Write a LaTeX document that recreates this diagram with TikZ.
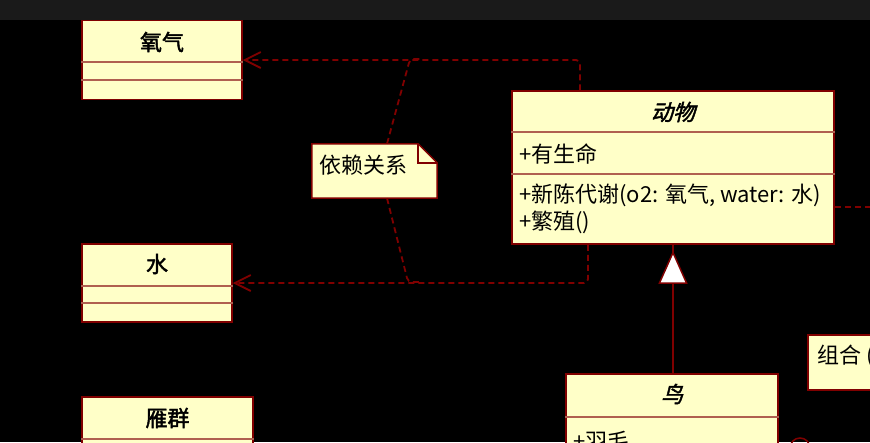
\documentclass[tikz,border=0pt]{standalone}
\usepackage{fontspec}
\usetikzlibrary{arrows.meta,calc}
\newfontfamily\cjk{Noto Sans CJK SC}
\newfontfamily\cjkbf[FakeBold=2]{Noto Sans CJK SC}
\newfontfamily\cjkbi[FakeBold=2,FakeSlant=0.25]{Noto Sans CJK SC}
\definecolor{umlfill}{RGB}{255,255,200}
\definecolor{umlline}{RGB}{128,0,0}
\definecolor{divline}{RGB}{176,96,80}
\definecolor{topbar}{RGB}{26,26,26}
\begin{document}
\begin{tikzpicture}[x=1pt,y=-1pt,
  classbox/.style={draw=umlline, fill=umlfill, line width=1.5pt, inner sep=0pt},
  title/.style={font=\cjkbf\fontsize{22}{26}\selectfont, inner sep=0pt},
  ititle/.style={font=\cjkbi\fontsize{22}{26}\selectfont, inner sep=0pt},
  member/.style={font=\cjk\fontsize{22}{26}\selectfont, inner sep=0pt, anchor=west},
  divider/.style={draw=divline, line width=1.5pt},
  depend/.style={draw=umlline, line width=1.8pt, dash pattern=on 6pt off 4pt, rounded corners=4pt},
  notebox/.style={draw=umlline, fill=umlfill, line width=1.5pt, line join=miter},
  solidline/.style={draw=umlline, line width=1.5pt}
]
% canvas
\fill[black] (0,0) rectangle (870,442);
\fill[topbar] (0,0) rectangle (870,20);
\useasboundingbox (0,0) rectangle (870,442);
\clip (0,0) rectangle (870,442);

% class: 氧气
\node[classbox, minimum width=160pt, minimum height=79pt] (oxygen) at (162,60) {};
\draw[divider] (oxygen.west |- 0,62) -- (oxygen.east |- 0,62);
\draw[divider] (oxygen.west |- 0,80) -- (oxygen.east |- 0,80);
\node[title] (oxygenname) at (162,42) {氧气};

% class: 水
\node[classbox, minimum width=150pt, minimum height=78pt] (water) at (157,283) {};
\draw[divider] (water.west |- 0,286) -- (water.east |- 0,286);
\draw[divider] (water.west |- 0,303) -- (water.east |- 0,303);
\node[title] (watername) at (157,264) {水};

% class: 雁群
\node[classbox, minimum width=171pt, minimum height=90pt] (flock) at (167.5,442) {};
\draw[divider] (flock.west |- 0,439) -- (flock.east |- 0,439);
\node[title] (flockname) at (167.5,418) {雁群};

% class: 动物
\node[classbox, minimum width=322pt, minimum height=153pt] (animal) at (673,167.5) {};
\draw[divider] (animal.west |- 0,132) -- (animal.east |- 0,132);
\draw[divider] (animal.west |- 0,174) -- (animal.east |- 0,174);
\node[ititle] (animalname) at (673,112) {动物};
\node[member] (alive) at (519,154) {+有生命};
\node[member] (metab) at (519,195) {+新陈代谢(o2: 氧气, water: 水)};
\node[member] (breed) at (519,222) {+繁殖()};

% class: 鸟
\node[classbox, minimum width=212pt, minimum height=100pt] (bird) at (672,424) {};
\draw[divider] (bird.west |- 0,417) -- (bird.east |- 0,417);
\node[ititle] (birdname) at (672,394) {鸟};
\node[member] (feather) at (573,441) {+羽毛};

% note: 依赖关系
\node[inner sep=0pt, minimum width=125pt, minimum height=54pt] (depnote) at (374.5,171) {};
\draw[notebox] (depnote.north west) -- ($(depnote.north east)+(-19,0)$)
  -- ($(depnote.north east)+(0,19)$) -- (depnote.south east)
  -- (depnote.south west) -- cycle;
\draw[umlline, line width=1.5pt] ($(depnote.north east)+(-19,0)$)
  -- ($(depnote.north east)+(-19,19)$) -- ($(depnote.north east)+(0,19)$);
\node[member] (deptext) at (319,165) {依赖关系};

% note: 组合
\node[notebox, inner sep=0pt, minimum width=80pt, minimum height=55pt] (compnote) at (848,362.5) {};
\node[member] (comptext) at (817,356) {组合 (};

% dependencies
\draw[depend, -{Straight Barb[length=16pt,width=16pt]}]
  (animal.north -| 580,0) |- (oxygen.east);
\draw[depend, -{Straight Barb[length=16pt,width=16pt]}]
  (animal.south -| 588,0) |- (water.east);
\coordinate (topjoin) at (420,59);
\coordinate (botjoin) at (420,282);
\draw[depend] (depnote.north -| 387,0) -- (410,59) -- (topjoin);
\draw[depend] (depnote.south -| 387,0) -- (408,282) -- (botjoin);
\coordinate (rightexit) at (870,207);
\draw[depend] (animal.east |- 0,207) -- (rightexit);

% generalization 鸟 -> 动物
\draw[solidline] (animal.south |- bird.north) -- (animal.south);
\draw[solidline, -{Triangle[length=33pt,width=29pt,fill=white]}, shorten >=6pt]
  (animal.south |- bird.north) -- (animal.south);

% composition end near the lower right
\coordinate (compend) at (800,448);
\draw[solidline] (compend) circle[radius=10pt];
\end{tikzpicture}
\end{document}
